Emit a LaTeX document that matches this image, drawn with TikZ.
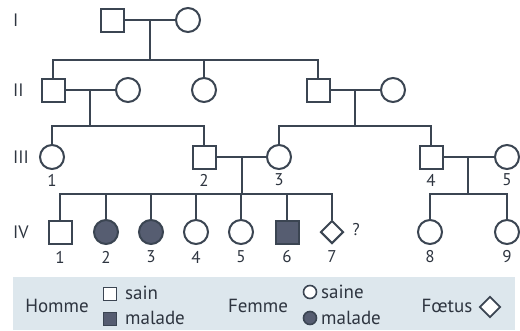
\documentclass[tikz,border=0pt]{standalone}
\usepackage{fontspec}
\setmainfont{PT Sans}
\usetikzlibrary{shapes.geometric}
\definecolor{ln}{HTML}{3B4552}
\definecolor{txt}{HTML}{2E3540}
\definecolor{sick}{HTML}{565D71}
\definecolor{legbg}{HTML}{DDE7ED}
\tikzset{
  male/.style={draw=ln,line width=2pt,rectangle,minimum size=23pt,inner sep=0pt,fill=white},
  female/.style={draw=ln,line width=2pt,circle,minimum size=24pt,inner sep=0pt,fill=white},
  fetus/.style={draw=ln,line width=2pt,diamond,minimum size=23pt,inner sep=0pt,fill=white},
  ill/.style={fill=sick},
  lmale/.style={draw=ln,line width=1.6pt,rectangle,minimum size=13pt,inner sep=0pt,fill=white},
  lfemale/.style={draw=ln,line width=1.6pt,circle,minimum size=13pt,inner sep=0pt,fill=white},
  lfetus/.style={draw=ln,line width=1.8pt,diamond,minimum size=21pt,inner sep=0pt,fill=white},
  link/.style={draw=ln,line width=2pt},
  num/.style={font=\fontsize{17}{17}\selectfont,text=txt,inner sep=0pt},
  gen/.style={font=\fontsize{18}{18}\selectfont,text=txt,inner sep=0pt,anchor=west},
  leg/.style={font=\fontsize{19}{19}\selectfont,text=txt,inner sep=0pt},
}
\begin{document}
\begin{tikzpicture}[x=1pt,y=-1pt]
\useasboundingbox (0,0) rectangle (520,330);
\fill[legbg] (13,277) rectangle (515,330);
% generation labels
\node[gen] (gI) at (13,20) {I};
\node[gen] (gII) at (13,90) {II};
\node[gen] (gIII) at (13,157) {III};
\node[gen] (gIV) at (13,232) {IV};
% generation I
\node[male] (I1) at (112,20) {};
\node[female] (I2) at (188,20) {};
\coordinate (mI) at (150,20);
\coordinate (sI) at (150,60);
% generation II
\node[male] (II1) at (53,90) {};
\node[female] (II2) at (128,90) {};
\node[female] (II3) at (204,90) {};
\node[male] (II4) at (318,90) {};
\node[female] (II5) at (393,90) {};
\coordinate (mIIa) at (90,90);
\coordinate (sIIa) at (90,126);
\coordinate (mIIb) at (355,90);
\coordinate (sIIb) at (355,126);
% generation III
\node[female] (III1) at (52,157) {};
\node[male] (III2) at (204,157) {};
\node[female] (III3) at (279,157) {};
\node[male] (III4) at (431,157) {};
\node[female] (III5) at (507,157) {};
\coordinate (mIIIa) at (242,157);
\coordinate (sIIIa) at (242,194);
\coordinate (mIIIb) at (468,157);
\coordinate (sIIIb) at (468,194);
\node[num] (lIII1) at (52,180) {1};
\node[num] (lIII2) at (204,180) {2};
\node[num] (lIII3) at (279,180) {3};
\node[num] (lIII4) at (431,180) {4};
\node[num] (lIII5) at (507,180) {5};
% generation IV
\node[male] (IV1) at (60,232) {};
\node[female,ill] (IV2) at (106,232) {};
\node[female,ill] (IV3) at (151,232) {};
\node[female] (IV4) at (196,232) {};
\node[female] (IV5) at (241,232) {};
\node[male,ill] (IV6) at (287,232) {};
\node[fetus] (IV7) at (332,232) {};
\node[num] (q) at (356,230) {?};
\node[female] (IV8) at (430,232) {};
\node[female] (IV9) at (507,232) {};
\foreach \i/\x in {1/60,2/106,3/151,4/196,5/241,6/287,7/332,8/430,9/507}
  \node[num] (lIV\i) at (\x,257) {\i};
% links
\draw[link] (I1) -- (I2);
\draw[link] (mI) -- (sI);
\draw[link] (II1.north) |- (sI) -| (II4.north);
\draw[link] (II3.north) -- (II3.north |- sI);
\draw[link] (II1) -- (II2);
\draw[link] (mIIa) -- (sIIa);
\draw[link] (III1.north) |- (sIIa) -| (III2.north);
\draw[link] (II4) -- (II5);
\draw[link] (mIIb) -- (sIIb);
\draw[link] (III3.north) |- (sIIb) -| (III4.north);
\draw[link] (III2) -- (III3);
\draw[link] (mIIIa) -- (sIIIa);
\draw[link] (IV1.north) |- (sIIIa) -| (IV7.north);
\foreach \k in {2,3,4,5,6}
  \draw[link] (IV\k.north) -- (IV\k.north |- sIIIa);
\draw[link] (III4) -- (III5);
\draw[link] (mIIIb) -- (sIIIb);
\draw[link] (IV8.north) |- (sIIIb) -| (IV9.north);
% legend
\node[leg] (hom) at (57,306) {Homme};
\node[lmale] (lm1) at (110,294) {};
\node[lmale,fill=sick] (lm2) at (110,319) {};
\node[leg,anchor=west] (lsain) at (125,293) {sain};
\node[leg,anchor=west] (lmal) at (125,318) {malade};
\node[leg] (fem) at (258,306) {Femme};
\node[lfemale] (lf1) at (310,292) {};
\node[lfemale,fill=sick] (lf2) at (310,318) {};
\node[leg,anchor=west] (lsaine) at (321,292) {saine};
\node[leg,anchor=west] (lmale2) at (321,318) {malade};
\node[leg] (foe) at (447,306) {Fœtus};
\node[lfetus] (lfe) at (490,307) {};
\end{tikzpicture}
\end{document}
